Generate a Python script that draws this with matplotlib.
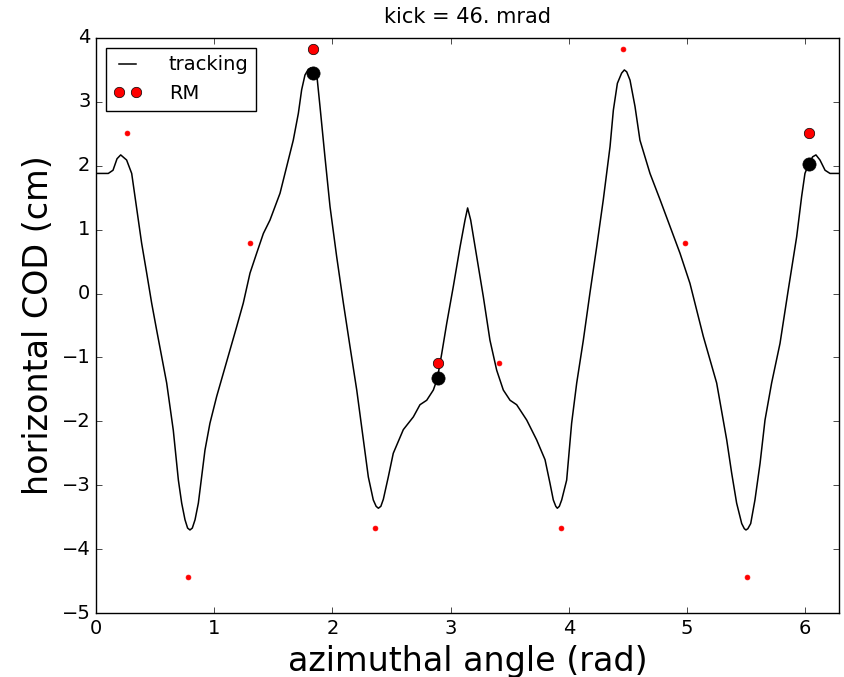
import numpy as np
import matplotlib
matplotlib.use("Agg")
import matplotlib.pyplot as plt

plt.style.use("classic")
plt.rcParams["figure.facecolor"] = "white"
plt.rcParams["savefig.facecolor"] = "white"
plt.rcParams["font.size"] = 14

kick_mrad = 46.0

# closed orbit distortion from tracking (azimuth in rad, COD in cm)
theta_track = [0.000, 0.104, 0.144, 0.178, 0.209, 0.259, 0.302, 0.330, 0.358, 0.386,
               0.429, 0.471, 0.513, 0.556, 0.598, 0.626, 0.654, 0.677, 0.697, 0.725,
               0.753, 0.775, 0.795, 0.815, 0.838, 0.866, 0.894, 0.922, 0.964, 1.021,
               1.077, 1.134, 1.190, 1.246, 1.303, 1.359, 1.416, 1.472, 1.557, 1.669,
               1.712, 1.740, 1.768, 1.796, 1.818, 1.838, 1.856, 1.872, 1.895, 1.937,
               1.980, 2.036, 2.093, 2.149, 2.206, 2.262, 2.304, 2.346, 2.370, 2.389,
               2.410, 2.431, 2.473, 2.515, 2.600, 2.685, 2.741, 2.798, 2.854, 2.888,
               2.925, 2.967, 3.023, 3.080, 3.122, 3.144, 3.170, 3.221, 3.277, 3.333,
               3.390, 3.446, 3.503, 3.559, 3.644, 3.728, 3.799, 3.841, 3.869, 3.890,
               3.903, 3.920, 3.940, 3.982, 4.024, 4.067, 4.123, 4.179, 4.236, 4.292,
               4.349, 4.377, 4.411, 4.447, 4.470, 4.490, 4.518, 4.560, 4.602, 4.687,
               4.772, 4.856, 4.941, 5.025, 5.138, 5.251, 5.336, 5.378, 5.420, 5.463,
               5.485, 5.499, 5.515, 5.539, 5.575, 5.618, 5.660, 5.716, 5.787, 5.857,
               5.928, 5.970, 5.998, 6.032, 6.063, 6.091, 6.125, 6.168, 6.210, 6.283]
cod_track = [1.88, 1.88, 1.93, 2.11, 2.17, 2.09, 1.88, 1.52, 1.15, 0.79,
             0.32, -0.15, -0.57, -0.99, -1.40, -1.77, -2.14, -2.55, -2.92, -3.28,
             -3.54, -3.67, -3.70, -3.67, -3.54, -3.28, -2.87, -2.45, -2.03, -1.61,
             -1.25, -0.88, -0.52, -0.15, 0.32, 0.63, 0.94, 1.15, 1.57, 2.40,
             2.82, 3.19, 3.42, 3.51, 3.53, 3.50, 3.45, 3.35, 2.93, 2.14,
             1.36, 0.58, -0.15, -0.83, -1.51, -2.29, -2.87, -3.23, -3.33, -3.36,
             -3.33, -3.22, -2.87, -2.50, -2.13, -1.93, -1.74, -1.67, -1.51, -1.33,
             -0.94, -0.47, 0.11, 0.73, 1.15, 1.34, 1.15, 0.58, -0.05, -0.73,
             -1.20, -1.51, -1.67, -1.74, -1.98, -2.29, -2.60, -2.97, -3.23, -3.33,
             -3.36, -3.33, -3.23, -2.92, -2.03, -1.40, -0.73, 0.01, 0.73, 1.47,
             2.30, 2.87, 3.29, 3.45, 3.50, 3.47, 3.34, 2.93, 2.40, 1.88,
             1.47, 1.05, 0.63, 0.16, -0.67, -1.40, -2.29, -2.81, -3.28, -3.60,
             -3.68, -3.70, -3.68, -3.60, -3.23, -2.66, -1.98, -1.40, -0.78, 0.06,
             0.89, 1.52, 1.88, 2.04, 2.14, 2.17, 2.09, 1.93, 1.88, 1.88]

# response-matrix prediction at the monitor positions
theta_rm = [0.26, 0.78, 1.30, 1.84, 2.36, 2.89, 3.41, 3.93, 4.46, 4.98, 5.51, 6.03]
cod_rm = [2.51, -4.43, 0.79, 3.83, -3.67, -1.09, -1.09, -3.67, 3.83, 0.79, -4.43, 2.51]

# monitors used for the comparison
theta_bpm = [1.84, 2.89, 6.03]
cod_bpm_rm = [3.83, -1.08, 2.51]
cod_bpm_track = [3.45, -1.32, 2.03]

fig = plt.figure(figsize=(8.45, 6.77), dpi=100)
ax = fig.add_axes([0.1136, 0.0945, 0.8789, 0.8494])

ax.plot(theta_track, cod_track, "k-", lw=1.1, label="tracking")
ax.plot(theta_rm, cod_rm, "r.", ms=7, mec="r")
ax.plot(theta_bpm, cod_bpm_rm, "ro", ms=7.5, mew=0.5, label="RM")
ax.plot(theta_bpm, cod_bpm_track, "ko", ms=9.5)

ax.set_xlim(0, 2 * np.pi)
ax.set_ylim(-5, 4)
ax.set_xticks(range(0, 7))
ax.set_yticks(range(-5, 5))
ax.tick_params(labelsize=14)

ax.set_title("kick = %.f. mrad" % kick_mrad, fontsize=15, pad=11)
ax.set_xlabel("azimuthal angle (rad)", fontsize=24)
ax.set_ylabel("horizontal COD (cm)", fontsize=24)

ax.legend(loc="upper left", numpoints=2, fontsize=14, handlelength=1.45,
          handletextpad=1.4)

fig.savefig("out.png", dpi=100)
